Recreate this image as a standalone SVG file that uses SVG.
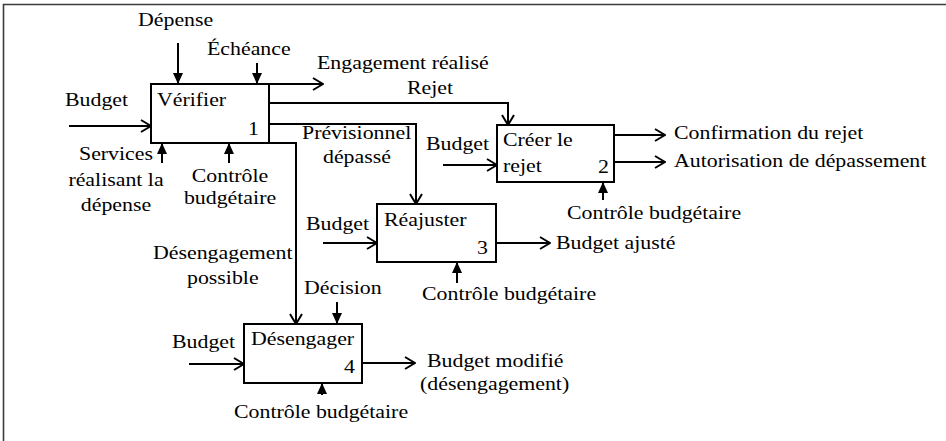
<svg xmlns="http://www.w3.org/2000/svg" width="946" height="441" viewBox="0 0 946 441">
<style>
text{font-family:"Liberation Serif","Times New Roman",serif;font-size:19px;fill:#000}
text.m{text-anchor:middle}
text.e{text-anchor:end}
.box{fill:#fff;stroke:#000;stroke-width:2}
.c{fill:none;stroke:#000;stroke-width:2}
.o{marker-end:url(#open)}
.f{marker-end:url(#fill)}
</style>
<defs>
<marker id="open" viewBox="0 0 12 14" refX="11" refY="7" markerWidth="12" markerHeight="14" orient="auto" markerUnits="userSpaceOnUse">
<path d="M1,1 L11,7 L1,13" fill="none" stroke="#000" stroke-width="2"/>
</marker>
<marker id="fill" viewBox="0 0 11 10" refX="11" refY="5" markerWidth="11" markerHeight="10" orient="auto" markerUnits="userSpaceOnUse">
<path d="M0,0 L11,5 L0,10 Z" fill="#000"/>
</marker>
</defs>
<rect width="946" height="441" fill="#fff"/>
<path d="M3.5,441 V4.5 H946" fill="none" stroke="#3c3c3c" stroke-width="1.6"/>

<g id="connectors">
<path class="c o" d="M69,126 H151"/>
<path class="c f" d="M178,43 V84"/>
<path class="c f" d="M257,63 V84"/>
<path class="c f" d="M162,163 V143"/>
<path class="c f" d="M229,163 V143"/>
<path class="c o" d="M269,84 H323"/>
<path class="c o" d="M269,103 H508 V125"/>
<path class="c o" d="M269,124 H416 V204"/>
<path class="c o" d="M269,143 H296 V324"/>
<path class="c o" d="M443,165 H497"/>
<path class="c o" d="M614,135 H665"/>
<path class="c o" d="M614,162 H665"/>
<path class="c f" d="M603,200 V182"/>
<path class="c o" d="M323,243 H377"/>
<path class="c o" d="M496,243 H550"/>
<path class="c f" d="M457,283 V262"/>
<path class="c f" d="M337,302 V324"/>
<path class="c o" d="M189,364 H244"/>
<path class="c o" d="M362,363 H415"/>
<path class="c f" d="M322,395 V383"/>
</g>

<g id="verifier">
<rect class="box" x="151" y="84" width="118" height="59"/>
<text transform="translate(157,106) scale(1.15,1)">Vérifier</text>
<text class="e" transform="translate(259,135) scale(1.15,1)">1</text>
</g>
<g id="creer-rejet">
<rect class="box" x="497" y="125" width="117" height="57"/>
<text transform="translate(503,146) scale(1.15,1)">Créer le</text>
<text transform="translate(503,172) scale(1.15,1)">rejet</text>
<text class="e" transform="translate(609,173) scale(1.15,1)">2</text>
</g>
<g id="reajuster">
<rect class="box" x="377" y="204" width="119" height="58"/>
<text transform="translate(384,226) scale(1.15,1)">Réajuster</text>
<text class="e" transform="translate(488,254) scale(1.15,1)">3</text>
</g>
<g id="desengager">
<rect class="box" x="244" y="324" width="118" height="59"/>
<text transform="translate(251,345) scale(1.15,1)">Désengager</text>
<text class="e" transform="translate(355,373) scale(1.15,1)">4</text>
</g>

<g id="labels">
<text transform="translate(138,26) scale(1.15,1)">Dépense</text>
<text transform="translate(207,55) scale(1.15,1)">Échéance</text>
<text transform="translate(65,106) scale(1.15,1)">Budget</text>
<text class="m" transform="translate(116,160) scale(1.15,1)">Services</text>
<text class="m" transform="translate(116,186) scale(1.15,1)">réalisant la</text>
<text class="m" transform="translate(116,211) scale(1.15,1)">dépense</text>
<text class="m" transform="translate(230,182) scale(1.15,1)">Contrôle</text>
<text class="m" transform="translate(230,204) scale(1.15,1)">budgétaire</text>
<text transform="translate(317,69) scale(1.15,1)">Engagement réalisé</text>
<text transform="translate(407,94) scale(1.15,1)">Rejet</text>
<text transform="translate(302,139) scale(1.15,1)">Prévisionnel</text>
<text transform="translate(323,163) scale(1.15,1)">dépassé</text>
<text transform="translate(426,150) scale(1.15,1)">Budget</text>
<text transform="translate(674,139) scale(1.15,1)">Confirmation du rejet</text>
<text transform="translate(674,167) scale(1.15,1)">Autorisation de dépassement</text>
<text transform="translate(567,219) scale(1.15,1)">Contrôle budgétaire</text>
<text transform="translate(306,230) scale(1.15,1)">Budget</text>
<text transform="translate(556,249) scale(1.15,1)">Budget ajusté</text>
<text transform="translate(422,300) scale(1.15,1)">Contrôle budgétaire</text>
<text transform="translate(153,259) scale(1.15,1)">Désengagement</text>
<text transform="translate(187,284) scale(1.15,1)">possible</text>
<text transform="translate(304,294) scale(1.15,1)">Décision</text>
<text transform="translate(172,348) scale(1.15,1)">Budget</text>
<text transform="translate(427,367) scale(1.15,1)">Budget modifié</text>
<text transform="translate(420,390) scale(1.15,1)">(désengagement)</text>
<text transform="translate(234,418) scale(1.15,1)">Contrôle budgétaire</text>
</g>
</svg>
